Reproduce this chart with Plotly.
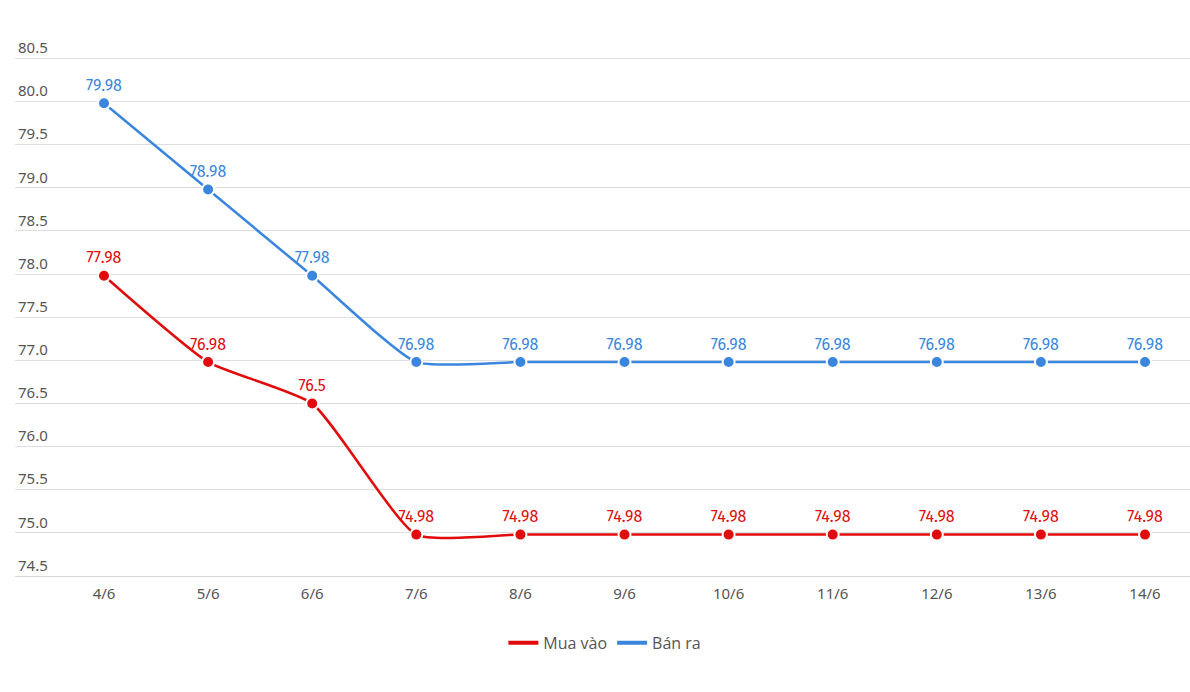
import plotly.graph_objects as go

dates = ["4/6", "5/6", "6/6", "7/6", "8/6", "9/6", "10/6", "11/6", "12/6", "13/6", "14/6"]
mua_vao = [77.98, 76.98, 76.5, 74.98, 74.98, 74.98, 74.98, 74.98, 74.98, 74.98, 74.98]
ban_ra = [79.98, 78.98, 77.98, 76.98, 76.98, 76.98, 76.98, 76.98, 76.98, 76.98, 76.98]
y_ticks = [74.5, 75.0, 75.5, 76.0, 76.5, 77.0, 77.5, 78.0, 78.5, 79.0, 79.5, 80.0, 80.5]

RED = "#e10b0b"
BLUE = "#3a86de"

fig = go.Figure()
for name, vals, col in [("Mua vào", mua_vao, RED), ("Bán ra", ban_ra, BLUE)]:
    fig.add_trace(go.Scatter(
        x=list(range(len(dates))), y=vals, name=name, showlegend=False,
        mode="lines+markers+text",
        line=dict(color=col, width=2.5, shape="spline", smoothing=0.5),
        marker=dict(color=col, size=12, line=dict(color="white", width=2)),
        text=[f"{v:g}" for v in vals], textposition="top center",
        textfont=dict(color=col, size=16, family="Fira Sans, Noto Sans, sans-serif"),
        cliponaxis=False,
    ))
for name, col in [("Mua vào", RED), ("Bán ra", BLUE)]:
    fig.add_trace(go.Scatter(
        x=[None], y=[None], name=name, mode="lines",
        line=dict(color=col, width=4),
    ))

fig.update_layout(
    width=1190, height=692,
    margin=dict(l=15, r=0, t=36, b=116),
    paper_bgcolor="white", plot_bgcolor="white",
    showlegend=True,
    legend=dict(orientation="h", x=0.502, xanchor="center", y=-0.124, yanchor="middle",
                font=dict(family="Open Sans, sans-serif", size=16, color="#555"),
                itemwidth=30, traceorder="normal"),
    font=dict(family="Noto Sans, sans-serif", color="#555"),
)
fig.update_xaxes(
    tickmode="array", tickvals=list(range(len(dates))), ticktext=dates,
    range=[-0.855, 10.432], showgrid=False, zeroline=False,
    showline=True, linecolor="#d8d8d8", linewidth=1,
    tickfont=dict(size=15, color="#555"), ticks="", ticklabelstandoff=4,
)
fig.update_yaxes(
    range=[74.5, 80.76], tickmode="array", tickvals=y_ticks,
    ticktext=[f"{v:.1f}" for v in y_ticks],
    ticklabelposition="inside top", showgrid=True, gridcolor="#dedede", gridwidth=1,
    zeroline=False, tickfont=dict(size=15, color="#555"),
)
fig.write_html("out.html")
